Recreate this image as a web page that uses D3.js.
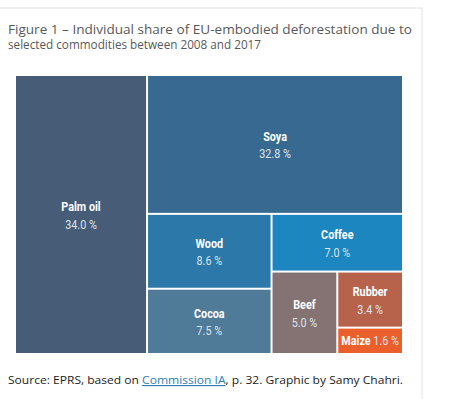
<!DOCTYPE html>
<html lang="en">
<head>
<meta charset="UTF-8">
<title>Individual share of EU-embodied deforestation</title>
<script src="https://d3js.org/d3.v7.min.js"></script>
<style>
    body, html {
        margin: 0;
        background: #ffffff;
    }
    .title {
        font-family: 'Open Sans', 'Noto Sans', sans-serif;
        font-size: 12px;
        fill: #59595b;
    }
    .source {
        font-family: 'Open Sans', 'Noto Sans', sans-serif;
        font-size: 11.5px;
        fill: #222;
    }
    .cell text {
        font-family: Roboto, 'DejaVu Sans Condensed', sans-serif;
        font-size: 13.5px;
        text-anchor: middle;
    }
    .name { font-weight: bold; fill: #ffffff; }
    .val { fill: #d8e3ee; }
</style>
</head>
<body>
<script>
    const commodities = ["Palm oil", "Soya", "Wood", "Cocoa", "Coffee", "Beef", "Rubber", "Maize"];
    const shares = [34.0, 32.8, 8.6, 7.5, 7.0, 5.0, 3.4, 1.6];
    const palette = ["#465c77", "#386a91", "#2b78a9", "#4f7b98", "#1c86c1", "#857373", "#b7634c", "#ea5f2b"];

    const width = 449, height = 399;
    const svg = d3.select("body").append("svg")
        .attr("width", width)
        .attr("height", height);

    // light frame around the figure
    svg.append("rect")
        .attr("x", -2).attr("y", 8)
        .attr("width", 424).attr("height", height)
        .attr("fill", "none")
        .attr("stroke", "#e2e2e2");

    svg.append("text").attr("class", "title")
        .attr("x", 8).attr("y", 34)
        .attr("textLength", 404).attr("lengthAdjust", "spacingAndGlyphs")
        .text("Figure 1 \u2013 Individual share of EU-embodied deforestation due to");
    svg.append("text").attr("class", "title")
        .attr("x", 8).attr("y", 48.5)
        .attr("textLength", 253).attr("lengthAdjust", "spacingAndGlyphs")
        .text("selected commodities between 2008 and 2017");

    const color = d3.scaleOrdinal(commodities, palette);
    const fmt = d3.format(".1f");

    const x0 = 16, y0 = 76, w = 386, h = 277;
    const root = d3.hierarchy({children: commodities.map((c, i) => ({name: c, value: shares[i]}))})
        .sum(d => d.value)
        .sort((a, b) => b.value - a.value);

    d3.treemap()
        .tile(d3.treemapBinary)
        .size([w, h])
        .paddingInner(2)
        .round(false)(root);

    const cell = svg.append("g")
        .attr("transform", `translate(${x0},${y0})`)
        .selectAll("g")
        .data(root.leaves())
        .join("g")
        .attr("class", "cell");

    cell.append("rect")
        .attr("x", d => d.x0)
        .attr("y", d => d.y0)
        .attr("width", d => d.x1 - d.x0)
        .attr("height", d => d.y1 - d.y0)
        .attr("fill", d => color(d.data.name));

    // condensed look: squeeze labels horizontally
    const sq = (x, y) => `translate(${x},${y}) scale(0.8,1)`;

    cell.each(function(d) {
        const g = d3.select(this);
        const cx = (d.x0 + d.x1) / 2, cy = (d.y0 + d.y1) / 2;
        if (d.y1 - d.y0 < 35) {
            const t = g.append("text").attr("transform", sq(cx, cy + 4.5));
            t.append("tspan").attr("class", "name").text(d.data.name);
            t.append("tspan").attr("class", "val").text(" " + fmt(d.value) + " %");
        } else {
            g.append("text").attr("class", "name")
                .attr("transform", sq(cx, cy - 3.5))
                .text(d.data.name);
            g.append("text").attr("class", "val")
                .attr("transform", sq(cx, cy + 14))
                .text(fmt(d.value) + " %");
        }
    });

    const src = svg.append("text").attr("class", "source")
        .attr("x", 8).attr("y", 384)
        .attr("textLength", 395).attr("lengthAdjust", "spacingAndGlyphs");
    src.append("tspan").text("Source: EPRS, based on ");
    src.append("tspan").attr("fill", "#2f7db5").attr("text-decoration", "underline").text("Commission IA");
    src.append("tspan").text(", p. 32. Graphic by Samy Chahri.");
</script>
</body>
</html>
